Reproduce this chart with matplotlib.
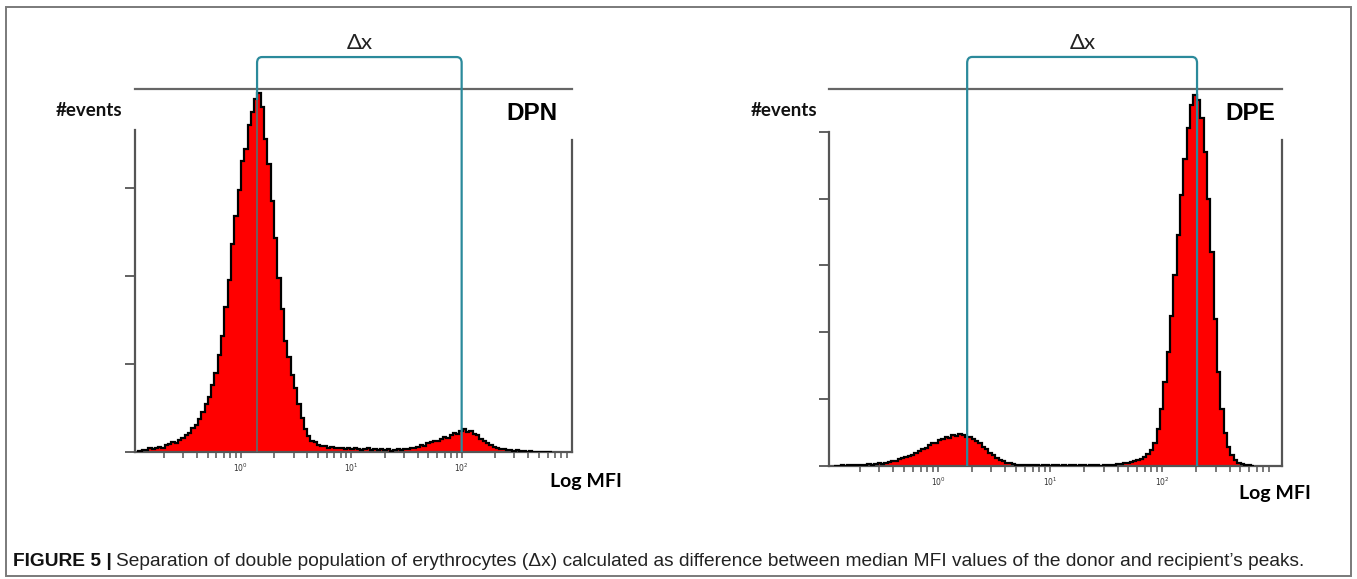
import numpy as np
import matplotlib
matplotlib.use("Agg")
import matplotlib.pyplot as plt
from matplotlib.path import Path
from matplotlib.patches import PathPatch, Rectangle
from matplotlib.transforms import blended_transform_factory
from matplotlib.ticker import FixedLocator, NullFormatter

W, H = 1357, 579

# histogram bins in log10(MFI)
LOG_START = -0.93
BIN_W = 0.03

# DPN sample: counts per bin
DPN_COUNTS = [1, 2, 2, 4, 3, 5, 6, 5, 8, 9,
              11, 10, 14, 16, 19, 22, 27, 31, 38, 45,
              54, 62, 76, 90, 110, 132, 165, 196, 236, 268,
              298, 331, 344, 372, 386, 401, 408, 392, 356, 327,
              285, 243, 198, 162, 126, 108, 88, 73, 54, 39,
              26, 18, 13, 11, 8, 7, 7, 5, 6, 4,
              5, 4, 3, 4, 3, 4, 3, 2, 3, 4,
              2, 3, 2, 3, 2, 3, 1, 2, 3, 2,
              3, 3, 4, 5, 6, 8, 7, 10, 11, 13,
              12, 15, 17, 16, 19, 22, 21, 24, 26, 23,
              24, 20, 19, 15, 13, 10, 8, 6, 4, 3,
              3, 2, 2, 1, 2, 1, 1, 0, 1, 0,
              0, 0, 0, 0, 0]

# DPE sample: counts per bin
DPE_COUNTS = [0, 0, 1, 0, 1, 1, 2, 1, 2, 2,
              3, 2, 3, 4, 3, 5, 6, 7, 8, 10,
              12, 14, 15, 17, 20, 22, 26, 27, 31, 34,
              35, 39, 40, 43, 42, 46, 45, 48, 46, 44,
              43, 40, 37, 34, 28, 25, 20, 16, 12, 9,
              7, 5, 4, 3, 2, 2, 1, 1, 2, 1,
              1, 0, 1, 1, 0, 1, 1, 0, 1, 0,
              1, 1, 0, 1, 1, 0, 1, 1, 1, 0,
              1, 1, 2, 2, 3, 3, 4, 5, 6, 7,
              9, 11, 14, 18, 24, 35, 55, 85, 125, 170,
              225, 285, 345, 405, 460, 505, 540, 555, 548, 520,
              470, 400, 320, 220, 140, 85, 50, 28, 16, 9,
              5, 3, 2, 1, 0]

# medians of the two peaks (MFI) used for the delta-x bracket
DPN_MEDIANS = [1.40, 100.0]
DPE_MEDIANS = [1.82, 205.0]

PANEL_NAMES = ["DPN", "DPE"]
X_TICKS = [1, 10, 100]
X_TICK_LABELS = [r"$10^{0}$", r"$10^{1}$", r"$10^{2}$"]

TEAL = "#2b8a9b"
AXC = "#555555"


def px(x, y):
    return x / W, 1 - y / H


fig = plt.figure(figsize=(W / 100, H / 100), dpi=100)
fig.patch.set_facecolor("white")


def histo_panel(rect, counts, xlim, ytop, yticks, left_top, right_top):
    ax = fig.add_axes(rect)
    edges = 10 ** (LOG_START + BIN_W * np.arange(len(counts) + 1))
    ax.stairs(counts, edges, fill=True, color="#ff0000", zorder=2)
    ax.stairs(counts, edges, color="black", lw=1.6, zorder=3)
    ax.set_xscale("log")
    ax.set_xlim(*xlim)
    ax.set_ylim(0, ytop)
    for s in ax.spines.values():
        s.set_color(AXC)
        s.set_linewidth(1.6)
    ax.spines["top"].set_color("#666666")
    ax.spines["left"].set_bounds(0, left_top)
    ax.spines["right"].set_bounds(0, right_top)
    ax.xaxis.set_major_locator(FixedLocator(X_TICKS))
    ax.set_xticklabels(X_TICK_LABELS)
    minors = [m * 10.0 ** d for d in range(-1, 3) for m in range(2, 10)]
    ax.xaxis.set_minor_locator(FixedLocator(minors))
    ax.xaxis.set_minor_formatter(NullFormatter())
    ax.tick_params(axis="x", which="both", direction="out", length=4,
                   width=1.1, colors=AXC, labelsize=5.5, labelcolor="#333333", pad=3)
    ax.set_yticks(yticks)
    ax.tick_params(axis="y", direction="out", length=7, width=1.3,
                   colors=AXC, labelleft=False)
    ax.patch.set_alpha(0)
    return ax


def bracket(ax, x0, x1, ytop, stop0, stop1):
    tr = blended_transform_factory(ax.transData, ax.transAxes)
    k = 10 ** 0.045
    r = 0.016
    verts = [(x0, stop0), (x0, ytop - r), (x0, ytop), (x0 * k, ytop),
             (x1 / k, ytop), (x1, ytop), (x1, ytop - r), (x1, stop1)]
    codes = [Path.MOVETO, Path.LINETO, Path.CURVE3, Path.CURVE3,
             Path.LINETO, Path.CURVE3, Path.CURVE3, Path.LINETO]
    p = PathPatch(Path(verts, codes), transform=tr, fill=False,
                  edgecolor=TEAL, lw=1.6, clip_on=False, zorder=5)
    ax.add_patch(p)


# left panel (DPN)
ax1 = histo_panel([135 / W, 1 - 452 / H, 437 / W, 363 / H], DPN_COUNTS,
                  (10 ** -0.96, 10 ** 3.0), 412.5, [0, 100, 200, 300], 366, 355)
ax1.plot([DPN_MEDIANS[0]] * 2, [0, 400], color="#666666", lw=1.3, zorder=4)
bracket(ax1, DPN_MEDIANS[0], DPN_MEDIANS[1], 1.088, 400 / 412.5, 0.0)

# right panel (DPE)
ax2 = histo_panel([829 / W, 1 - 466 / H, 453 / W, 377 / H], DPE_COUNTS,
                  (10 ** -0.973, 10 ** 3.07), 564, [0, 100, 200, 300, 400, 500], 500, 488)
bracket(ax2, DPE_MEDIANS[0], DPE_MEDIANS[1], 1.085, 0.0, 0.0)

# labels
for (xe, ye), (xn, yn), (xl, yl), (xd, yd), name in [
        ((122, 111), (558, 114), (550, 481), (360, 43), PANEL_NAMES[0]),
        ((817, 111), (1275, 114), (1239, 494), (1083, 43), PANEL_NAMES[1])]:
    fig.text(*px(xe, ye), "#events", ha="right", va="center", fontsize=13.5,
             family="Lato", weight="bold", color="#111111")
    fig.text(*px(xn, yn), name, ha="right", va="center", fontsize=17.5,
             family="Liberation Sans", weight="bold", color="black")
    fig.text(*px(xl, yl), "Log MFI", ha="left", va="center", fontsize=14,
             family="Lato", weight="bold", color="black")
    fig.text(*px(xd, yd), "Δx", ha="center", va="center", fontsize=16,
             family="Lato", color="#222222")

# outer frame
fig.add_artist(Rectangle(px(6, 576), 1345 / W, 569 / H, transform=fig.transFigure,
                         fill=False, edgecolor="#7a7a7a", lw=1.4))

# caption
cap_font = ["Liberation Sans Narrow", "Liberation Sans", "DejaVu Sans"]
t1 = fig.text(*px(13, 562), "FIGURE 5 |", ha="left", va="center", fontsize=13.8,
              family=cap_font, weight="bold", color="#111111")
fig.canvas.draw()
bb = t1.get_window_extent(fig.canvas.get_renderer())
fig.text((bb.x1 + 4) / W, 1 - 562 / H,
         "Separation of double population of erythrocytes (Δx) calculated as difference "
         "between median MFI values of the donor and recipient\u2019s peaks.",
         ha="left", va="center", fontsize=13.8, family=cap_font, color="#222222")

fig.savefig("out.png", dpi=100, facecolor="white")
